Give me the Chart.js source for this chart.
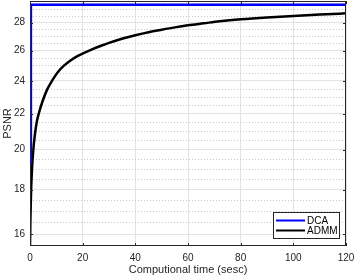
<!DOCTYPE html>
<html>
<head>
<meta charset="utf-8">
<script src="https://cdn.jsdelivr.net/npm/chart.js@4.4.0/dist/chart.umd.min.js"></script>
<style>
  html, body { margin: 0; padding: 0; background: #fff; }
  #wrap { width: 354px; height: 277px; }
</style>
</head>
<body>
<div id="wrap"><canvas id="psnr-chart"></canvas></div>
<script>
// данные
const xTicks = [0, 20, 40, 60, 80, 100, 120];
const yTicks = [16, 18, 20, 22, 24, 26, 28];
const yMinor = [15.5, 16.5, 17, 17.5, 18.5, 19, 19.5, 20.5, 21, 21.5, 22.5, 23, 23.5, 24.5, 25, 25.5, 26.5, 27, 27.5, 28.5, 29, 29.5];

const dcaTime = [0, 0.35, 120];
const dcaPsnr = [19.3, 29.35, 29.35];

const admmTime = [0, 0.15, 0.4, 0.76, 1.2, 1.8, 2.6, 3.5, 4.9, 6.5, 8, 9.5, 11, 13, 15, 18, 21, 24, 27, 30, 34, 40, 45, 50, 55, 60, 66, 72, 80, 90, 100, 110, 120];
const admmPsnr = [15.5, 16.6, 17.9, 19.0, 19.9, 20.75, 21.55, 22.1, 22.8, 23.45, 23.9, 24.3, 24.65, 25.0, 25.28, 25.62, 25.88, 26.12, 26.34, 26.54, 26.78, 27.08, 27.3, 27.48, 27.65, 27.8, 27.95, 28.1, 28.25, 28.39, 28.5, 28.6, 28.7];

const axisColor = "#262626";
const fontFamily = "'Liberation Sans', Arial, sans-serif";

function toPoints(xs, ys) {
  return xs.map((x, i) => ({ x: x, y: ys[i] }));
}

// рамка, засечки внутрь, мелкая сетка, легенда
const matlabAxes = {
  id: "matlabAxes",
  beforeDatasetsDraw(chart) {
    const ctx = chart.ctx;
    const a = chart.chartArea;
    const y = chart.scales.y;
    ctx.save();
    ctx.strokeStyle = "#c8c8c8";
    ctx.lineWidth = 1;
    ctx.setLineDash([1, 2]);
    yMinor.forEach((v) => {
      if (v <= y.min || v >= y.max) return;
      const py = Math.round(y.getPixelForValue(v)) + 0.5;
      ctx.beginPath();
      ctx.moveTo(a.left, py);
      ctx.lineTo(a.right, py);
      ctx.stroke();
    });
    ctx.restore();
  },
  afterDraw(chart) {
    const ctx = chart.ctx;
    const a = chart.chartArea;
    const xs = chart.scales.x;
    const ys = chart.scales.y;
    ctx.save();
    ctx.strokeStyle = axisColor;
    ctx.lineWidth = 1;
    ctx.strokeRect(Math.round(a.left) + 0.5, Math.round(a.top) + 0.5,
      Math.round(a.right - a.left) - 1, Math.round(a.bottom - a.top) - 1);
    const t = 3;
    ctx.beginPath();
    xTicks.forEach((v) => {
      const px = Math.round(xs.getPixelForValue(v)) + 0.5;
      ctx.moveTo(px, a.bottom);
      ctx.lineTo(px, a.bottom - t);
      ctx.moveTo(px, a.top);
      ctx.lineTo(px, a.top + t);
    });
    yTicks.forEach((v) => {
      const py = Math.round(ys.getPixelForValue(v)) + 0.5;
      ctx.moveTo(a.left, py);
      ctx.lineTo(a.left + t, py);
      ctx.moveTo(a.right, py);
      ctx.lineTo(a.right - t, py);
    });
    ctx.stroke();

    // легенда
    const lx = 273, ly = 212, lw = 66, lh = 26;
    ctx.fillStyle = "#fff";
    ctx.fillRect(lx, ly, lw, lh);
    ctx.strokeStyle = axisColor;
    ctx.strokeRect(lx + 0.5, ly + 0.5, lw, lh);
    ctx.font = "10px " + fontFamily;
    ctx.textBaseline = "middle";
    chart.data.datasets.forEach((ds, i) => {
      const cy = ly + 8.5 + i * 10;
      ctx.strokeStyle = ds.borderColor;
      ctx.lineWidth = 2;
      ctx.beginPath();
      ctx.moveTo(lx + 3, cy);
      ctx.lineTo(lx + 32, cy);
      ctx.stroke();
      ctx.fillStyle = "#000";
      ctx.fillText(ds.label, lx + 34, cy + 0.5);
    });
    ctx.restore();
  },
};

new Chart(document.getElementById("psnr-chart"), {
  type: "line",
  data: {
    datasets: [
      {
        label: "DCA",
        data: toPoints(dcaTime, dcaPsnr),
        borderColor: "#0000ff",
        borderWidth: 2.5,
        pointRadius: 0,
        tension: 0,
      },
      {
        label: "ADMM",
        data: toPoints(admmTime, admmPsnr),
        borderColor: "#000000",
        borderWidth: 2.5,
        pointRadius: 0,
        cubicInterpolationMode: "monotone",
      },
    ],
  },
  options: {
    responsive: true,
    maintainAspectRatio: false,
    animation: false,
    events: [],
    layout: {
      padding: { top: 1, right: 8, left: 0, bottom: 0 },
    },
    plugins: {
      legend: { display: false },
      tooltip: { enabled: false },
    },
    scales: {
      x: {
        type: "linear",
        min: 0,
        max: 120,
        afterBuildTicks: (scale) => {
          scale.ticks = xTicks.map((v) => ({ value: v }));
        },
        afterFit: (scale) => {
          scale.height = 31;
          scale.paddingLeft = 0;
          scale.paddingRight = 0;
        },
        grid: {
          color: "#e3e3e3",
          drawTicks: false,
        },
        border: { display: false },
        ticks: {
          color: axisColor,
          padding: 6,
          maxRotation: 0,
          font: { family: fontFamily, size: 10 },
        },
        title: {
          display: true,
          text: "Computional time (sesc)",
          color: axisColor,
          padding: { top: 1, bottom: 0 },
          font: { family: fontFamily, size: 11 },
        },
      },
      y: {
        type: "logarithmic",
        min: 15.5,
        max: 29.65,
        afterBuildTicks: (scale) => {
          scale.ticks = yTicks.map((v) => ({ value: v }));
        },
        afterFit: (scale) => {
          scale.width = 30;
          scale.paddingTop = 0;
          scale.paddingBottom = 0;
        },
        grid: {
          color: "#e3e3e3",
          drawTicks: false,
        },
        border: { display: false },
        ticks: {
          color: axisColor,
          padding: 5,
          font: { family: fontFamily, size: 10 },
          callback: (v) => String(v),
        },
        title: {
          display: true,
          text: "PSNR",
          color: axisColor,
          padding: { top: 1.4, bottom: 1 },
          font: { family: fontFamily, size: 11 },
        },
      },
    },
  },
  plugins: [matlabAxes],
});
</script>
</body>
</html>
